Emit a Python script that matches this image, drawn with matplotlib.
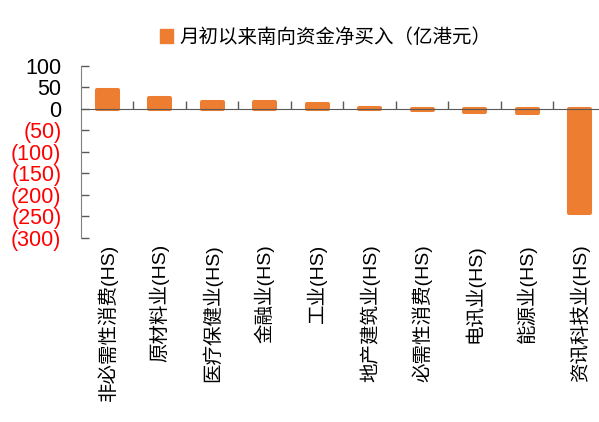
import matplotlib.pyplot as plt
from matplotlib.patches import Patch

plt.rcParams['font.family'] = ['Liberation Sans', 'Noto Sans CJK SC', 'DejaVu Sans']

# 南向资金按行业净买入
sectors = ['非必需性消费(HS)', '原材料业(HS)', '医疗保健业(HS)', '金融业(HS)', '工业(HS)',
           '地产建筑业(HS)', '必需性消费(HS)', '电讯业(HS)', '能源业(HS)', '资讯科技业(HS)']
net_buy = [43.5, 25, 17, 15.5, 10.5, 1.5, -1.5, -8, -9, -242]
yticks = [100, 50, 0, -50, -100, -150, -200, -250, -300]
series_name = '月初以来南向资金净买入（亿港元）'

orange = '#ED7D31'

fig = plt.figure(figsize=(5.99, 4.22), dpi=100)
ax = fig.add_axes([0.135, 0.436, 0.865, 0.408])

x = list(range(len(sectors)))
# 粗圆角描边让小数值柱子也可见
ax.bar(x, net_buy, width=0.40, color=orange, edgecolor=orange,
       linewidth=2.9, joinstyle='round', zorder=1)

ax.set_xlim(-0.5, 9.37)
ax.set_ylim(-300, 100)

# y轴：负数用红色括号表示
ax.set_yticks(yticks)
labels = [str(v) if v >= 0 else '(%d)' % -v for v in yticks]
ax.set_yticklabels(labels, fontsize=15.5)
for lab, v in zip(ax.get_yticklabels(), yticks):
    lab.set_color('red' if v < 0 else 'black')
ax.tick_params(axis='y', direction='in', length=6, width=1, color='#595959', pad=14)

# x轴放在0处，刻度在类别之间
ax.spines['bottom'].set_position(('data', 0))
ax.spines['bottom'].set_color('#595959')
ax.spines['bottom'].set_zorder(3)
ax.spines['left'].set_color('#808080')
ax.spines['top'].set_visible(False)
ax.spines['right'].set_visible(False)
ax.set_xticks([i + 0.5 for i in x[:-1]])
ax.set_xticklabels([])
ax.tick_params(axis='x', direction='in', length=6, width=1, color='#595959')

for i, name in enumerate(sectors):
    ax.text(i, -0.035, name, transform=ax.get_xaxis_transform(), rotation=90,
            ha='center', va='top', fontsize=14)

fig.legend(handles=[Patch(color=orange)], labels=[series_name], loc='upper center',
           bbox_to_anchor=(0.543, 0.975), frameon=False, fontsize=14,
           handlelength=0.7, handleheight=0.7, handletextpad=0.3)

fig.savefig('out.png', dpi=100)
